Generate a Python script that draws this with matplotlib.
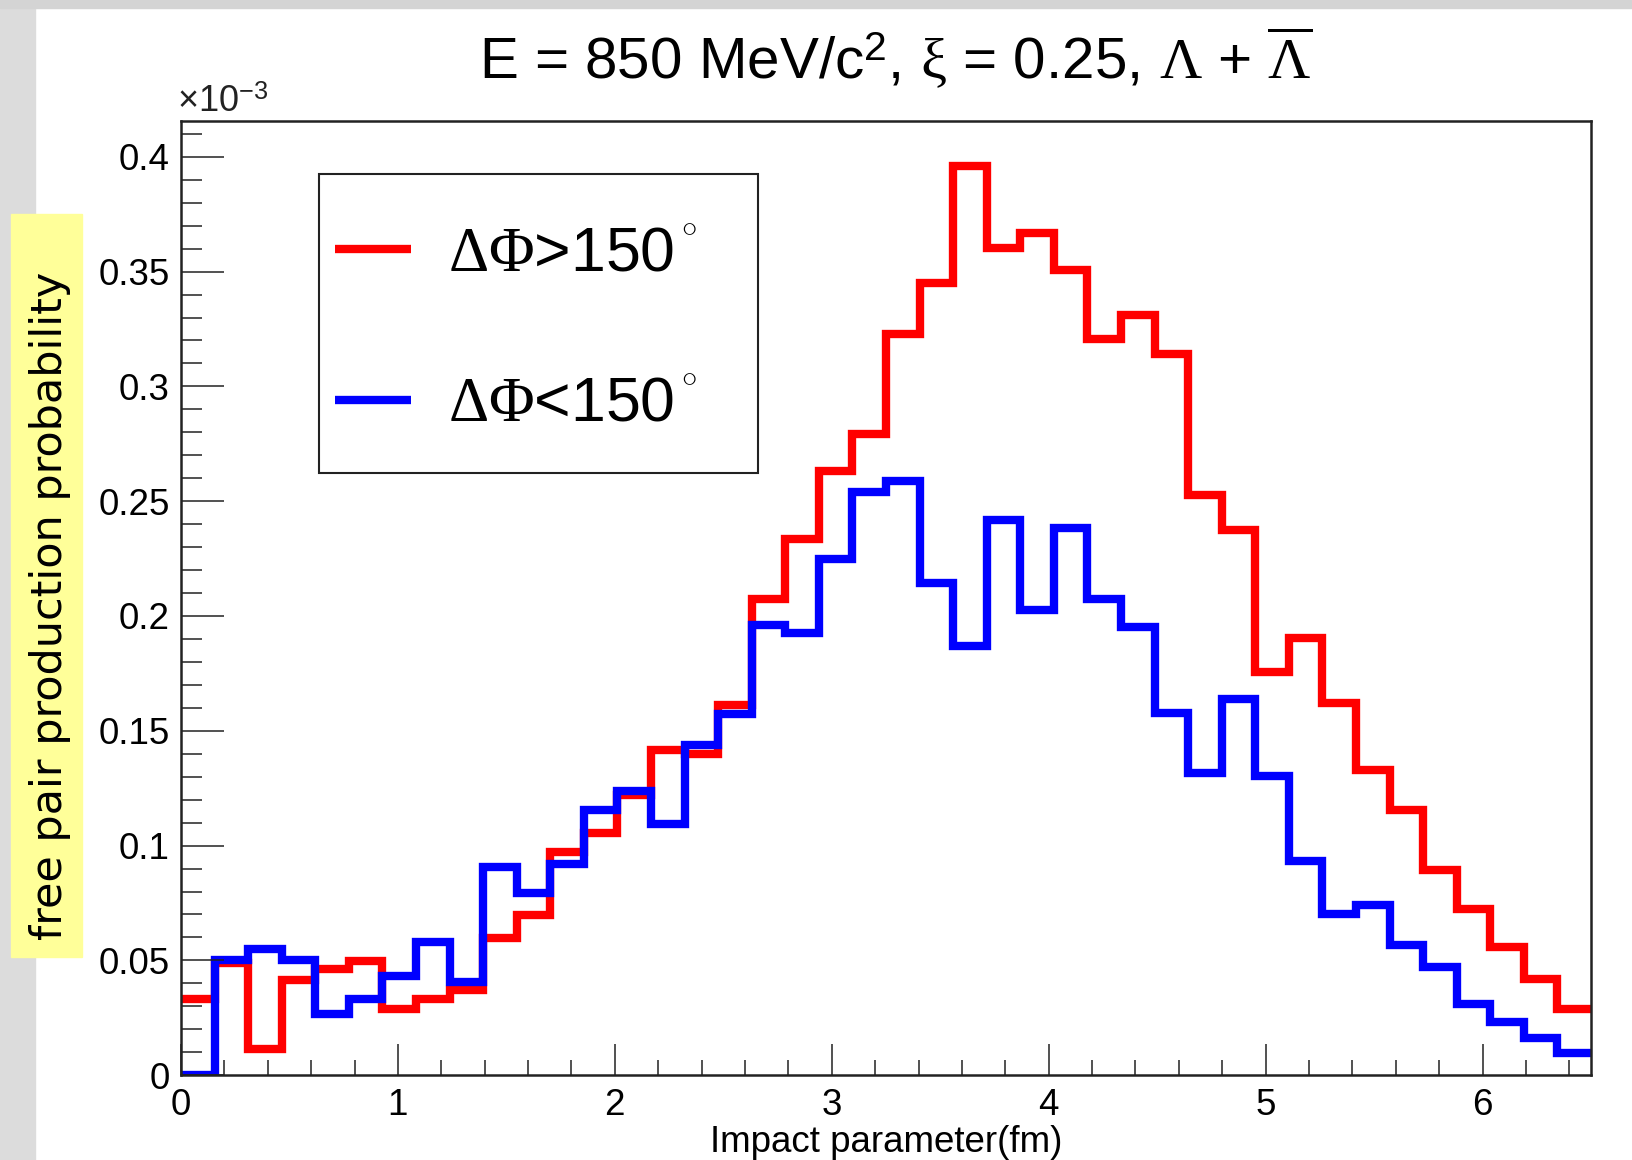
import numpy as np
import matplotlib.pyplot as plt
from matplotlib.lines import Line2D
from matplotlib.patches import Rectangle
from matplotlib.ticker import MultipleLocator, FuncFormatter

# histogram binning (impact parameter, fm)
x_lo, x_hi, n_bins = 0.0, 6.5, 42

# bin contents, in units of 1e-3
red_vals = [0.0333, 0.049, 0.0112, 0.0413, 0.0464, 0.0497, 0.0287, 0.033, 0.037, 0.0599,
            0.0697, 0.0973, 0.1053, 0.122, 0.1418, 0.1397, 0.1611, 0.2072, 0.2335, 0.2630,
            0.2792, 0.3227, 0.3452, 0.3959, 0.3601, 0.3667, 0.3509, 0.3206, 0.3309, 0.3142,
            0.2527, 0.2373, 0.1758, 0.1903, 0.1623, 0.1329, 0.1155, 0.0893, 0.0726, 0.0559,
            0.0417, 0.0287]
blue_vals = [0.0, 0.050, 0.0551, 0.0503, 0.0265, 0.033, 0.043, 0.058, 0.0406, 0.0906,
             0.0792, 0.0922, 0.1157, 0.1237, 0.1092, 0.1437, 0.1575, 0.1960, 0.1928, 0.2248,
             0.2540, 0.2589, 0.2145, 0.1871, 0.2416, 0.2026, 0.2385, 0.2072, 0.1952, 0.1577,
             0.1318, 0.1637, 0.1302, 0.0935, 0.0704, 0.0742, 0.0567, 0.0470, 0.0309, 0.0232,
             0.0162, 0.0097]

red_label = r'$\Delta\Phi$>150$^{\,{}^{\circ}}$'
blue_label = r'$\Delta\Phi$<150$^{\,{}^{\circ}}$'
title = r'E = 850 MeV/c$^{\mathsf{2}}$, $\xi$ = 0.25, $\Lambda$ + $\overline{\Lambda}$'

plt.rcParams['font.family'] = ['Liberation Sans', 'DejaVu Sans']
plt.rcParams['mathtext.fontset'] = 'custom'
plt.rcParams['mathtext.rm'] = 'Liberation Serif'
plt.rcParams['mathtext.it'] = 'Liberation Serif'
plt.rcParams['mathtext.sf'] = 'Liberation Sans'

fig = plt.figure(figsize=(16.32, 11.6), dpi=100)

# grey slide border + yellow box behind the y label
fig.patches.append(Rectangle((0, 0), 0.0214, 1, transform=fig.transFigure,
                             color='#dcdcdc', zorder=0))
fig.patches.append(Rectangle((0, 0.993), 1, 0.007, transform=fig.transFigure,
                             color='#d4d4d4', zorder=0))
fig.patches.append(Rectangle((0.007, 0.1746), 0.0434, 0.6409, transform=fig.transFigure,
                             color='#ffff99', zorder=1))

ax = fig.add_axes([0.1109, 0.0731, 0.8640, 0.8228])

edges = np.linspace(x_lo, x_hi, n_bins + 1)
ax.stairs(red_vals, edges, baseline=None, color='red', lw=6, joinstyle='miter')
ax.stairs(blue_vals, edges, baseline=None, color='blue', lw=6, joinstyle='miter')

ax.set_xlim(x_lo, x_hi)
ax.set_ylim(0, 1.05 * max(red_vals))

ax.xaxis.set_major_locator(MultipleLocator(1))
ax.xaxis.set_minor_locator(MultipleLocator(0.2))
ax.yaxis.set_major_locator(MultipleLocator(0.05))
ax.yaxis.set_minor_locator(MultipleLocator(0.01))
ax.yaxis.set_major_formatter(FuncFormatter(lambda v, p: '%g' % round(v, 3)))

ax.tick_params(axis='both', which='both', direction='in', top=False, right=False,
               labelsize=26.5, colors='#222222', labelcolor='black')
ax.tick_params(axis='y', which='major', length=31, width=1.1, pad=8)
ax.tick_params(axis='y', which='minor', length=15, width=1.1)
ax.tick_params(axis='x', which='major', length=22, width=1.1, pad=9)
ax.tick_params(axis='x', which='minor', length=11, width=1.1)
for sp in ax.spines.values():
    sp.set_linewidth(1.8)
    sp.set_color('#222222')

ax.set_xlabel('Impact parameter(fm)', fontsize=26.5, va='center')
ax.xaxis.set_label_coords(0.5, -0.0709)

fig.text(0.0306, 0.4776, 'free pair production probability', rotation=90,
         ha='center', va='center', fontsize=31, family='DejaVu Sans', zorder=2)
fig.text(0.1085, 0.9034, u'\u00d710$^{\\mathsf{-3}}$', fontsize=26, ha='left',
         va='baseline', color='#222222')
fig.text(0.549, 0.9319, title, ha='center', va='baseline', fontsize=42)

# legend: frame drawn separately so the padding can match the original box
ax.add_patch(Rectangle((0.0976, 0.6314), 0.3117, 0.3130, transform=ax.transAxes,
                       fill=False, ec='#222222', lw=1.5, zorder=5))
handles = [Line2D([], [], color='red', lw=6, solid_capstyle='butt'),
           Line2D([], [], color='blue', lw=6, solid_capstyle='butt')]
leg = ax.legend(handles, [red_label, blue_label], loc='center left',
                bbox_to_anchor=(0.1093, 0.7809), borderaxespad=0, borderpad=0,
                fontsize=45, handlelength=1.22, handletextpad=0.58, labelspacing=1.46,
                frameon=False)

fig.savefig('out.png', dpi=100)
